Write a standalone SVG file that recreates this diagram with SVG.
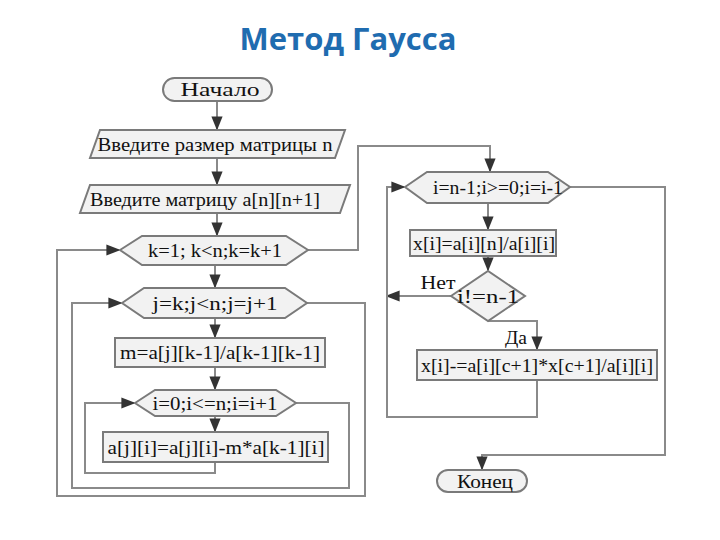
<svg xmlns="http://www.w3.org/2000/svg" width="720" height="540" viewBox="0 0 720 540">
<defs>
<marker id="ar" viewBox="0 0 10 10" refX="9" refY="5" markerWidth="7" markerHeight="7" orient="auto"><path d="M0,1 L10,5 L0,9 z" fill="#333"/></marker>
<style>
.s{fill:#f2f2f2;stroke:#7a7a7a;stroke-width:2}
.t{font-family:"Liberation Serif",serif;font-size:19px;fill:#111;text-anchor:middle;dominant-baseline:central}
.c{fill:none;stroke:#8a8a8a;stroke-width:2}
.a{marker-end:url(#ar)}
</style>
</defs>
<rect width="720" height="540" fill="#fff"/>
<text x="348" y="38" font-family="Open Sans, sans-serif" font-size="31" font-weight="bold" fill="#1f6cb0" text-anchor="middle" dominant-baseline="central">Метод Гаусса</text>
<g id="connectors">
<path class="c a" d="M217,101 V129"/>
<path class="c a" d="M217,158 V184"/>
<path class="c a" d="M217,213 V235"/>
<path class="c a" d="M215,265 V287"/>
<path class="c a" d="M215,318 V337"/>
<path class="c a" d="M215,367 V389"/>
<path class="c a" d="M215,416 V431"/>
<path class="c a" d="M215,462 V473 H85 V403 H134"/>
<path class="c a" d="M296,403 H349 V488 H72 V303 H121"/>
<path class="c a" d="M307,303 H365 V496 H57 V250 H119"/>
<path class="c a" d="M308,250 H358 V146 H490 V171"/>
<path class="c a" d="M488,203 V229"/>
<path class="c a" d="M488,256 V270"/>
<path class="c a" d="M451,296 H387"/>
<path class="c a" d="M488,321 H537 V349"/>
<path class="c a" d="M537,380 V417 H387 V187 H404"/>
<path class="c a" d="M570,187 H665 V455 H482 V469"/>
</g>
<g id="start"><rect class="s" x="163" y="78" width="109" height="23" rx="11.5"/><text class="t" x="220" y="89.5" textLength="79" lengthAdjust="spacingAndGlyphs">Начало</text></g>
<g id="input1"><polygon class="s" points="100,130 345,130 335,158 90,158"/><text class="t" x="215" y="144" textLength="235" lengthAdjust="spacingAndGlyphs">Введите размер матрицы n</text></g>
<g id="input2"><polygon class="s" points="90,185 350,185 340,213 80,213"/><text class="t" x="205" y="199" textLength="230" lengthAdjust="spacingAndGlyphs">Введите матрицу a[n][n+1]</text></g>
<g id="loopk"><polygon class="s" points="120,250 142,236 286,236 308,250 286,265 142,265"/><text class="t" x="215" y="250" textLength="134" lengthAdjust="spacingAndGlyphs">k=1; k&lt;n;k=k+1</text></g>
<g id="loopj"><polygon class="s" points="122,303 144,288 285,288 307,303 285,318 144,318"/><text class="t" x="215" y="303" textLength="125" lengthAdjust="spacingAndGlyphs">j=k;j&lt;n;j=j+1</text></g>
<g id="m"><rect class="s" x="115" y="338" width="210" height="29"/><text class="t" x="220" y="352.5" textLength="200" lengthAdjust="spacingAndGlyphs">m=a[j][k-1]/a[k-1][k-1]</text></g>
<g id="loopi"><polygon class="s" points="135,403 155,390 276,390 296,403 276,416 155,416"/><text class="t" x="215" y="403" textLength="125" lengthAdjust="spacingAndGlyphs">i=0;i&lt;=n;i=i+1</text></g>
<g id="a"><rect class="s" x="103" y="432" width="225" height="30"/><text class="t" x="216" y="447" textLength="217" lengthAdjust="spacingAndGlyphs">a[j][i]=a[j][i]-m*a[k-1][i]</text></g>
<g id="loopi2"><polygon class="s" points="405,187 427,172 548,172 570,187 548,203 427,203"/><text class="t" x="498" y="187" textLength="130" lengthAdjust="spacingAndGlyphs">i=n-1;i&gt;=0;i=i-1</text></g>
<g id="x"><rect class="s" x="410" y="230" width="146" height="26"/><text class="t" x="484" y="243" textLength="142" lengthAdjust="spacingAndGlyphs">x[i]=a[i][n]/a[i][i]</text></g>
<g id="cond"><polygon class="s" points="451,296 488,271 525,296 488,321"/><text class="t" x="488" y="296" textLength="62" lengthAdjust="spacingAndGlyphs">i!=n-1</text></g>
<text class="t" x="438" y="282" textLength="35" lengthAdjust="spacingAndGlyphs">Нет</text>
<text class="t" x="516" y="337" textLength="22" lengthAdjust="spacingAndGlyphs">Да</text>
<g id="xsub"><rect class="s" x="417" y="350" width="240" height="30"/><text class="t" x="537" y="365" textLength="232" lengthAdjust="spacingAndGlyphs">x[i]-=a[i][c+1]*x[c+1]/a[i][i]</text></g>
<g id="end"><rect class="s" x="437" y="470" width="90" height="22" rx="11"/><text class="t" x="485" y="481" textLength="56" lengthAdjust="spacingAndGlyphs">Конец</text></g>
</svg>
